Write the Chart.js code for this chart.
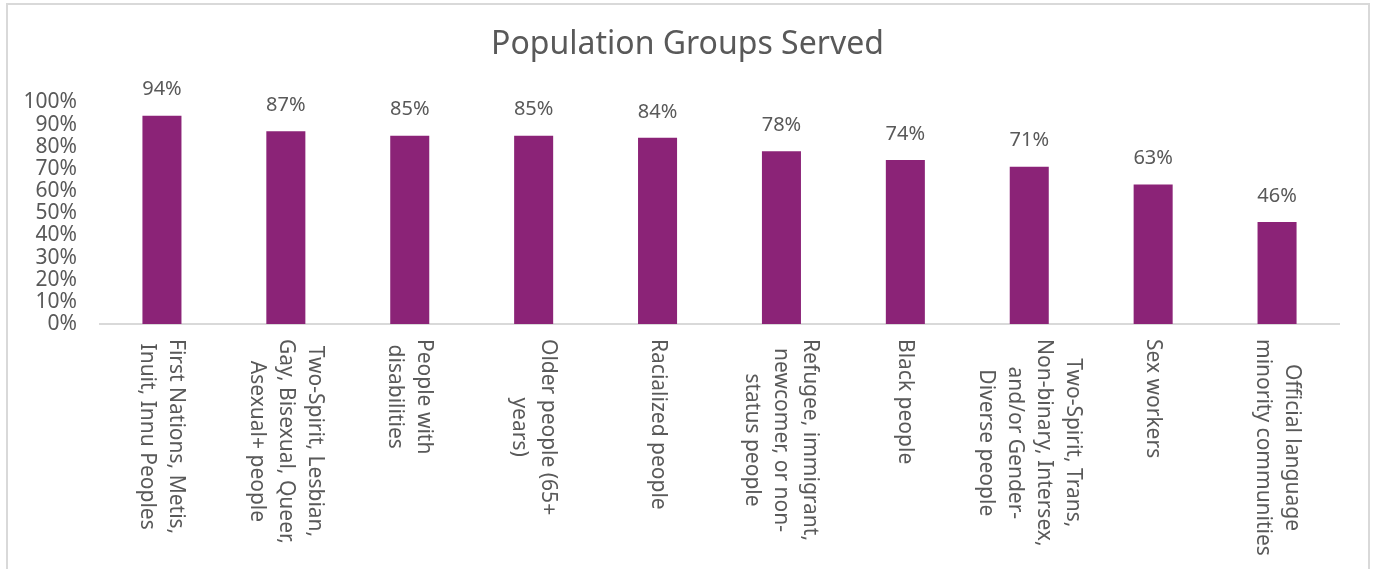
<!DOCTYPE html>
<html lang="en">

<head>
    <meta charset="UTF-8">
    <title>Population Groups Served</title>
    <style>
        body {
            margin: 0;
            background-color: #fff;
            overflow: hidden;
        }

        #frame {
            position: absolute;
            left: 6px;
            top: 3px;
            width: 1360px;
            height: 600px;
            border: 2px solid #d9d9d9;
        }

        #chart-container {
            position: absolute;
            left: 0;
            top: 0;
            width: 1375px;
            height: 569px;
        }
    </style>
</head>

<body>
    <div id="frame"></div>
    <div id="chart-container">
        <canvas id="groups-chart" width="1375" height="569"></canvas>
    </div>
    <script src="https://cdn.jsdelivr.net/npm/chart.js"></script>
    <script>
    const categories = [
        ['First Nations, Metis,', 'Inuit, Innu Peoples'],
        ['Two-Spirit, Lesbian,', 'Gay, Bisexual, Queer,', 'Asexual+ people'],
        ['People with', 'disabilities'],
        ['Older people (65+', 'years)'],
        ['Racialized people'],
        ['Refugee, immigrant,', 'newcomer, or non-', 'status people'],
        ['Black people'],
        ['Two-Spirit, Trans,', 'Non-binary, Intersex,', 'and/or Gender-', 'Diverse people'],
        ['Sex workers'],
        ['Official language', 'minority communities']
    ];
    const served = [94, 87, 85, 85, 84, 78, 74, 71, 63, 46];
    const yMax = 100;
    const yStep = 10;

    const textColor = '#595959';
    const barColor = '#8B2377';

    Chart.defaults.font.family = '"Noto Sans", sans-serif';
    Chart.defaults.color = textColor;

    // category labels read top to bottom (rotated clockwise), like Excel
    const xLabels = {
        id: 'xLabels',
        afterDraw(chart) {
            const { ctx } = chart;
            const x = chart.scales.x;
            ctx.save();
            ctx.font = '21px "Noto Sans"';
            ctx.fillStyle = textColor;
            ctx.textAlign = 'center';
            ctx.textBaseline = 'middle';
            categories.forEach((lines, i) => {
                const px = x.getPixelForTick(i);
                const maxW = Math.max(...lines.map(l => ctx.measureText(l).width));
                ctx.save();
                ctx.translate(px, x.top + 15);
                ctx.rotate(Math.PI / 2);
                lines.forEach((line, k) => {
                    ctx.fillText(line, maxW / 2, (k - (lines.length - 1) / 2) * 29);
                });
                ctx.restore();
            });
            ctx.restore();
        }
    };

    const valueLabels = {
        id: 'valueLabels',
        afterDatasetsDraw(chart) {
            const { ctx } = chart;
            const meta = chart.getDatasetMeta(0);
            ctx.save();
            ctx.font = '20px "Noto Sans"';
            ctx.fillStyle = textColor;
            ctx.textAlign = 'center';
            ctx.textBaseline = 'middle';
            meta.data.forEach((bar, i) => {
                ctx.fillText(served[i] + '%', bar.x, bar.y - 26);
            });
            ctx.restore();
        }
    };

    const ctx = document.getElementById('groups-chart').getContext('2d');
    const groupsChart = new Chart(ctx, {
        type: 'bar',
        data: {
            labels: categories,
            datasets: [{
                label: 'Population Groups Served',
                data: served,
                backgroundColor: barColor,
                borderWidth: 0,
                categoryPercentage: 1,
                barPercentage: 0.315
            }]
        },
        options: {
            responsive: false,
            animation: false,
            devicePixelRatio: 1,
            layout: {
                padding: { left: 0, right: 0, top: 0, bottom: 0 }
            },
            plugins: {
                legend: { display: false },
                tooltip: { enabled: false },
                title: {
                    display: true,
                    text: 'Population Groups Served',
                    color: textColor,
                    font: { size: 32, weight: 'normal' },
                    padding: { top: 26, bottom: 38 }
                }
            },
            scales: {
                x: {
                    grid: { display: false, drawTicks: false },
                    border: { display: true, color: '#d9d9d9', width: 2 },
                    ticks: { display: false },
                    afterFit: scale => { scale.height = 245; }
                },
                y: {
                    min: 0,
                    max: yMax,
                    grid: { display: false, drawTicks: false },
                    border: { display: false },
                    ticks: {
                        stepSize: yStep,
                        autoSkip: false,
                        padding: 23,
                        color: textColor,
                        font: { size: 21 },
                        callback: v => v + '%'
                    },
                    afterFit: scale => { scale.width = 100; }
                },
                // empty right axis, only keeps the plot clear of the right edge
                spacer: {
                    type: 'linear',
                    position: 'right',
                    grid: { display: false, drawTicks: false },
                    border: { display: false },
                    ticks: { display: false },
                    afterFit: scale => { scale.width = 36; }
                }
            }
        },
        plugins: [xLabels, valueLabels]
    });
    </script>
</body>

</html>
